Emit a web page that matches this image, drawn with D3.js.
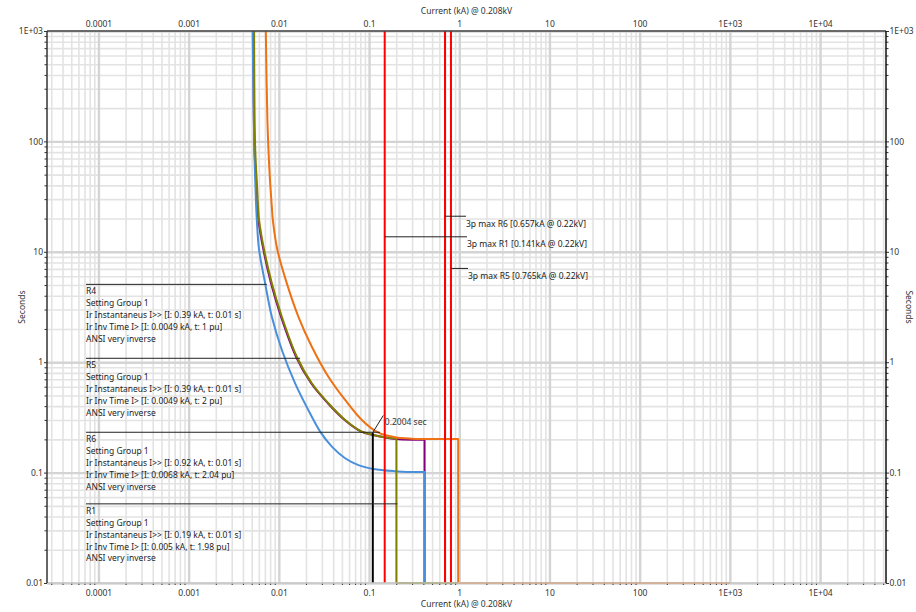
<!DOCTYPE html>
<html>
<head>
<meta charset="utf-8">
<script src="https://cdn.jsdelivr.net/npm/d3@7"></script>
<style>
  html, body { margin: 0; padding: 0; background: #fff; }
  svg text { font-family: "Noto Sans", "Open Sans", sans-serif; }
</style>
</head>
<body>
<svg id="chart" width="916" height="612"></svg>
<script>
// ---------------- data ----------------
const axisTitleX = "Current (kA) @ 0.208kV";
const axisTitleY = "Seconds";
const baseKV = 0.208;

const xTickValues = [1e-4, 1e-3, 1e-2, 0.1, 1, 10, 100, 1e3, 1e4];
const xTickLabels = ["0.0001", "0.001", "0.01", "0.1", "1", "10", "100", "1E+03", "1E+04"];
const yTickValues = [0.01, 0.1, 1, 10, 100, 1000];
const yTickLabels = ["0.01", "0.1", "1", "10", "100", "1E+03"];

// relay settings (as listed in the annotations)
const relayNames   = ["R4", "R5", "R6", "R1"];
const relayGroup   = ["Setting Group 1", "Setting Group 1", "Setting Group 1", "Setting Group 1"];
const relayInstA   = [0.39, 0.39, 0.92, 0.19];     // kA @ 0.22 kV
const relayInstT   = [0.01, 0.01, 0.01, 0.01];     // s
const relayPickupA = [0.0049, 0.0049, 0.0068, 0.005];
const relayTD      = [1, 2, 2.04, 1.98];            // pu
const relayCurve   = ["ANSI very inverse", "ANSI very inverse", "ANSI very inverse", "ANSI very inverse"];
const relayKV      = 0.22;
const curveEndA    = 1000;                          // kA, end of the definite-time tail

// inverse-time portions [current kA @ 0.208 kV, time s]
const curveR4 = [[0.00512, 1000], [0.00528, 155], [0.00536, 78], [0.0055, 38.7], [0.0057, 19.4],
  [0.00604, 10.4], [0.00705, 5.18], [0.00836, 2.58], [0.0108, 1.29], [0.01515, 0.644],
  [0.0232, 0.321], [0.0287, 0.235], [0.0387, 0.172], [0.0543, 0.135], [0.0762, 0.117],
  [0.112, 0.108], [0.194, 0.103], [0.30, 0.1012]];
const curveR5 = [[0.00523, 1000], [0.00536, 89.2], [0.00564, 38.7], [0.00594, 19.4],
  [0.00675, 10.4], [0.00819, 5.18], [0.01057, 2.58], [0.0155, 1.121], [0.0228, 0.644],
  [0.0349, 0.425], [0.0536, 0.300], [0.0823, 0.235], [0.1109, 0.2194], [0.1507, 0.2083],
  [0.1995, 0.2018], [0.30, 0.1985]];
const curveR6 = [[0.00717, 1000], [0.00747, 155], [0.00786, 54.9], [0.00836, 25.5],
  [0.00858, 19.4], [0.00964, 10.4], [0.01226, 5.18], [0.01648, 2.58], [0.0232, 1.381],
  [0.0354, 0.739], [0.0543, 0.455], [0.0831, 0.300], [0.127, 0.230], [0.1944, 0.2092],
  [0.298, 0.2031], [0.60, 0.2012]];
const curveR1 = [[0.00532, 1000], [0.00546, 89.2], [0.00574, 38.7], [0.00604, 19.4],
  [0.00687, 10.4], [0.00836, 5.18], [0.01079, 2.58], [0.01582, 1.121], [0.0232, 0.644],
  [0.0354, 0.425], [0.0543, 0.300], [0.0831, 0.235], [0.1117, 0.2194], [0.1507, 0.2092],
  [0.1979, 0.2031]];
const relayCurves = [curveR4, curveR5, curveR6, curveR1];
const relayColors = ["#4a8fdc", "#800080", "#ee7114", "#808000"];

// three-phase maximum fault currents
const faultNames = ["R6", "R1", "R5"];
const faultKA    = [0.657, 0.141, 0.765];
const faultKV    = [0.22, 0.22, 0.22];

// operating-time marker
const markerCurrent = 0.11;   // kA
const markerTime    = 0.231;  // s
const markerLabel   = "0.2004 sec";

// ---------------- layout ----------------
const frame = { left: 47, right: 886, top: 31, bottom: 583 };
const legendX = 86;
const legendLineT   = [5.07, 1.085, 0.232, 0.0521];     // leader heights (s)
const legendLineEnd = [0.00735, 0.0172, 0.1326, 0.2063]; // leader end (kA)
const faultLabelT   = [21.0, 13.67, 7.07];
const faultLabelEnd = [466, 467, 468];

// ---------------- scales ----------------
const x = d3.scaleLog().domain([2.69e-5, 5.38e4]).range([frame.left, frame.right]);
const y = d3.scaleLog().domain([0.01, 1000]).range([frame.bottom, frame.top]);
const toBase = kv => kv / baseKV;

const svg = d3.select("#chart");
const txt = "#333333";
const fs = 8.5;

// minor / major grid values
function logSteps(lo, hi) {
  const out = [];
  for (let e = -6; e <= 6; e++) for (let k = 1; k <= 9; k++) {
    const v = +(k * Math.pow(10, e)).toPrecision(6);
    if (v >= lo * 0.9999 && v <= hi * 1.0001) out.push(v);
  }
  return out;
}
const xMinor = logSteps(...x.domain()).filter(v => !xTickValues.includes(v));
const yMinor = logSteps(...y.domain()).filter(v => !yTickValues.includes(v));

// ---------------- grid ----------------
function gridV(vals, color, w) {
  svg.append("g").attr("transform", `translate(0,${frame.bottom})`)
    .call(d3.axisBottom(x).tickValues(vals).tickSize(-(frame.bottom - frame.top)).tickFormat(""))
    .call(g => g.select(".domain").remove())
    .selectAll("line").attr("stroke", color).attr("stroke-width", w);
}
function gridH(vals, color, w) {
  svg.append("g").attr("transform", `translate(${frame.left},0)`)
    .call(d3.axisLeft(y).tickValues(vals).tickSize(-(frame.right - frame.left)).tickFormat(""))
    .call(g => g.select(".domain").remove())
    .selectAll("line").attr("stroke", color).attr("stroke-width", w);
}
gridV(xMinor, "#e3e3e3", 1.6);
gridH(yMinor, "#e3e3e3", 1.6);
gridV(xTickValues, "#d4d4d4", 2.4);
gridH(yTickValues, "#d4d4d4", 2.4);

// ---------------- relay curves ----------------
const smooth = d3.line().x(d => x(d[0])).y(d => y(d[1])).curve(d3.curveCatmullRom.alpha(0.5));
const drawOrder = [1, 0, 3, 2]; // R5, R4, R1, R6
drawOrder.forEach(i => {
  const pts = relayCurves[i];
  const lastT = pts[pts.length - 1][1];
  const inst = relayInstA[i] * toBase(relayKV);
  const tail = [[inst, lastT], [inst, relayInstT[i]], [curveEndA, relayInstT[i]]];
  const d = smooth(pts) + tail.map(p => `L${x(p[0])},${y(p[1])}`).join("");
  svg.append("path").attr("d", d).attr("fill", "none")
    .attr("stroke", relayColors[i]).attr("stroke-width", 2)
    .attr("stroke-linejoin", "round");
});

// ---------------- fault current lines ----------------
faultKA.forEach((kA, i) => {
  const xi = x(kA * toBase(faultKV[i]));
  svg.append("line").attr("x1", xi).attr("x2", xi)
    .attr("y1", frame.top).attr("y2", frame.bottom)
    .attr("stroke", "#ff0000").attr("stroke-width", 2);
});

// ---------------- operating-time marker ----------------
const mx = x(markerCurrent), my = y(markerTime);
svg.append("line").attr("x1", mx).attr("x2", mx).attr("y1", my).attr("y2", frame.bottom)
  .attr("stroke", "#000").attr("stroke-width", 2);
svg.append("line").attr("x1", mx).attr("y1", my).attr("x2", mx + 10.5).attr("y2", my - 17)
  .attr("stroke", "#222").attr("stroke-width", 1);
svg.append("text").attr("x", mx + 12).attr("y", my - 7.5)
  .attr("font-size", fs).attr("fill", txt).text(markerLabel);

// ---------------- relay annotations ----------------
relayNames.forEach((name, i) => {
  const ly = y(legendLineT[i]);
  svg.append("line").attr("x1", legendX).attr("x2", x(legendLineEnd[i]))
    .attr("y1", ly).attr("y2", ly).attr("stroke", "#222").attr("stroke-width", 1);
  const lines = [
    name,
    relayGroup[i],
    `Ir Instantaneus I>> [I: ${relayInstA[i]} kA, t: ${relayInstT[i]} s]`,
    `Ir Inv Time I> [I: ${relayPickupA[i]} kA, t: ${relayTD[i]} pu]`,
    relayCurve[i]
  ];
  svg.append("text").attr("font-size", fs).attr("fill", "#222")
    .selectAll("tspan").data(lines).join("tspan")
    .attr("x", legendX).attr("y", (d, k) => ly + 10 + k * 11.9).text(d => d);
});

// ---------------- fault labels ----------------
faultNames.forEach((name, i) => {
  const ly = y(faultLabelT[i]);
  const x0 = x(faultKA[i] * toBase(faultKV[i]));
  svg.append("line").attr("x1", x0).attr("x2", faultLabelEnd[i])
    .attr("y1", ly).attr("y2", ly).attr("stroke", "#222").attr("stroke-width", 1);
  svg.append("text").attr("x", faultLabelEnd[i]).attr("y", ly + 10.3)
    .attr("font-size", fs).attr("fill", "#222")
    .text(`3p max ${name} [${faultKA[i]}kA @ ${faultKV[i]}kV]`);
});

// ---------------- axes ----------------
function styleAxis(g) {
  g.select(".domain").remove();
  g.selectAll("text").attr("font-size", fs).attr("fill", txt)
    .attr("font-family", '"Noto Sans", "Open Sans", sans-serif');
  g.selectAll("line").attr("stroke", "#333");
}
// top
svg.append("g").attr("transform", `translate(0,${frame.top})`)
  .call(d3.axisTop(x).tickValues(xTickValues).tickFormat((d, i) => xTickLabels[i]).tickSize(0).tickPadding(4.3))
  .call(styleAxis);
// bottom
svg.append("g").attr("transform", `translate(0,${frame.bottom})`)
  .call(d3.axisBottom(x).tickValues(xTickValues).tickFormat((d, i) => xTickLabels[i]).tickSize(0).tickPadding(6.5))
  .call(styleAxis);
svg.append("g").attr("transform", `translate(0,${frame.bottom})`)
  .call(d3.axisBottom(x).tickValues(xMinor).tickFormat("").tickSize(2))
  .call(styleAxis);
// left
svg.append("g").attr("transform", `translate(${frame.left},0)`)
  .call(d3.axisLeft(y).tickValues(yTickValues).tickFormat((d, i) => yTickLabels[i]).tickSize(3).tickPadding(1))
  .call(styleAxis);
svg.append("g").attr("transform", `translate(${frame.left},0)`)
  .call(d3.axisLeft(y).tickValues(yMinor).tickFormat("").tickSize(2.5))
  .call(styleAxis);
// right
svg.append("g").attr("transform", `translate(${frame.right},0)`)
  .call(d3.axisRight(y).tickValues(yTickValues).tickFormat((d, i) => yTickLabels[i]).tickSize(3).tickPadding(0.5))
  .call(styleAxis);
svg.append("g").attr("transform", `translate(${frame.right},0)`)
  .call(d3.axisRight(y).tickValues(yMinor).tickFormat("").tickSize(2.5))
  .call(styleAxis);

// frame lines
svg.append("line").attr("x1", frame.left).attr("x2", frame.right).attr("y1", frame.top).attr("y2", frame.top)
  .attr("stroke", "#444").attr("stroke-width", 1.5);
svg.append("line").attr("x1", frame.left).attr("x2", frame.right).attr("y1", frame.bottom).attr("y2", frame.bottom)
  .attr("stroke", "#c8c8c8").attr("stroke-width", 1.5);
svg.append("line").attr("x1", frame.left).attr("x2", frame.left).attr("y1", frame.top).attr("y2", frame.bottom)
  .attr("stroke", "#333").attr("stroke-width", 1.5);
svg.append("line").attr("x1", frame.right).attr("x2", frame.right).attr("y1", frame.top).attr("y2", frame.bottom)
  .attr("stroke", "#111").attr("stroke-width", 1.5);

// axis titles
const midX = (frame.left + frame.right) / 2, midY = (frame.top + frame.bottom) / 2;
svg.append("text").attr("x", midX).attr("y", 14).attr("text-anchor", "middle")
  .attr("font-size", fs).attr("fill", txt).text(axisTitleX);
svg.append("text").attr("x", midX).attr("y", 607).attr("text-anchor", "middle")
  .attr("font-size", fs).attr("fill", txt).text(axisTitleX);
svg.append("text").attr("transform", `translate(25,${midY}) rotate(-90)`).attr("text-anchor", "middle")
  .attr("font-size", fs).attr("fill", txt).text(axisTitleY);
svg.append("text").attr("transform", `translate(906,${midY}) rotate(90)`).attr("text-anchor", "middle")
  .attr("font-size", fs).attr("fill", txt).text(axisTitleY);
</script>
</body>
</html>
